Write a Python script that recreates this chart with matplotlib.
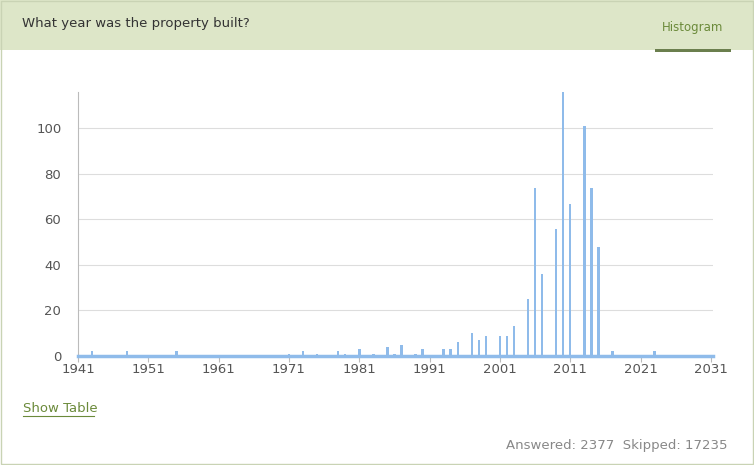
import matplotlib
matplotlib.use('Agg')
import matplotlib.pyplot as plt
from matplotlib.patches import Rectangle

# Baujahr -> Anzahl
jahre = [1943, 1948, 1955, 1971, 1973, 1975, 1978, 1979, 1981, 1983, 1985, 1986, 1987,
         1989, 1990, 1993, 1994, 1995, 1997, 1998, 1999, 2001, 2002, 2003, 2005, 2006,
         2007, 2009, 2010, 2011, 2013, 2014, 2015, 2017, 2023]
anzahl = [2, 2, 2, 1, 2, 1, 2, 1, 3, 1, 4, 1, 5,
          1, 3, 3, 3, 6, 10, 7, 9, 9, 9, 13, 25, 74,
          36, 56, 116, 67, 101, 74, 48, 2, 2]
tick_jahre = list(range(1941, 2032, 10))
y_ticks = [0, 20, 40, 60, 80, 100]

W, H = 754, 465
fig = plt.figure(figsize=(W / 100, H / 100), dpi=100)

# Kopfzeile
fig.patches.append(Rectangle((0, 1 - 50 / H), 1, 50 / H, transform=fig.transFigure,
                             facecolor='#dde6c8', edgecolor='none'))
fig.patches.append(Rectangle((0.0015, 0.002), 0.997, 0.996, transform=fig.transFigure,
                             facecolor='none', edgecolor='#c9d3b4', lw=1))
fig.patches.append(Rectangle((655 / W, 1 - 52 / H), 76 / W, 3 / H, transform=fig.transFigure,
                             facecolor='#6b7f4e', edgecolor='none'))
fig.text(22 / W, 1 - 24 / H, 'What year was the property built?', fontsize=9.5,
         color='#333333', va='center')
fig.text(693 / W, 1 - 27 / H, 'Histogram', fontsize=8.5, color='#6b8a3a',
         ha='center', va='center')
fig.text(23 / W, 1 - 408 / H, 'Show Table', fontsize=9.5, color='#6b8a3a',
         va='center').set_text('Show Table')
fig.add_artist(plt.Line2D([23 / W, 94 / W], [1 - 416 / H, 1 - 416 / H], color='#6b8a3a', lw=0.8))
fig.text(728 / W, 1 - 445 / H, 'Answered: 2377  Skipped: 17235', fontsize=9.5,
         color='#888888', ha='right', va='center')

ax = fig.add_axes([78 / W, 1 - 356 / H, (713 - 78) / W, (356 - 92) / H])
ax.bar(jahre, anzahl, width=0.35, color='#8fbbea', zorder=3)
ax.set_xlim(1941, 2031.3)
ax.set_ylim(0, 116)
ax.set_xticks(tick_jahre)
ax.set_yticks(y_ticks)
ax.grid(axis='y', color='#dddddd', lw=0.8, zorder=0)
for s in ['top', 'right']:
    ax.spines[s].set_visible(False)
ax.spines['left'].set_color('#bbbbbb')
ax.spines['bottom'].set_color('#8fbbea')
ax.spines['bottom'].set_linewidth(2.5)
ax.tick_params(axis='y', length=0, labelsize=9.5, labelcolor='#555555', pad=12)
ax.tick_params(axis='x', length=4, color='#bbbbbb', labelsize=9.5, labelcolor='#555555', pad=1)

fig.savefig('out.png', dpi=100)
